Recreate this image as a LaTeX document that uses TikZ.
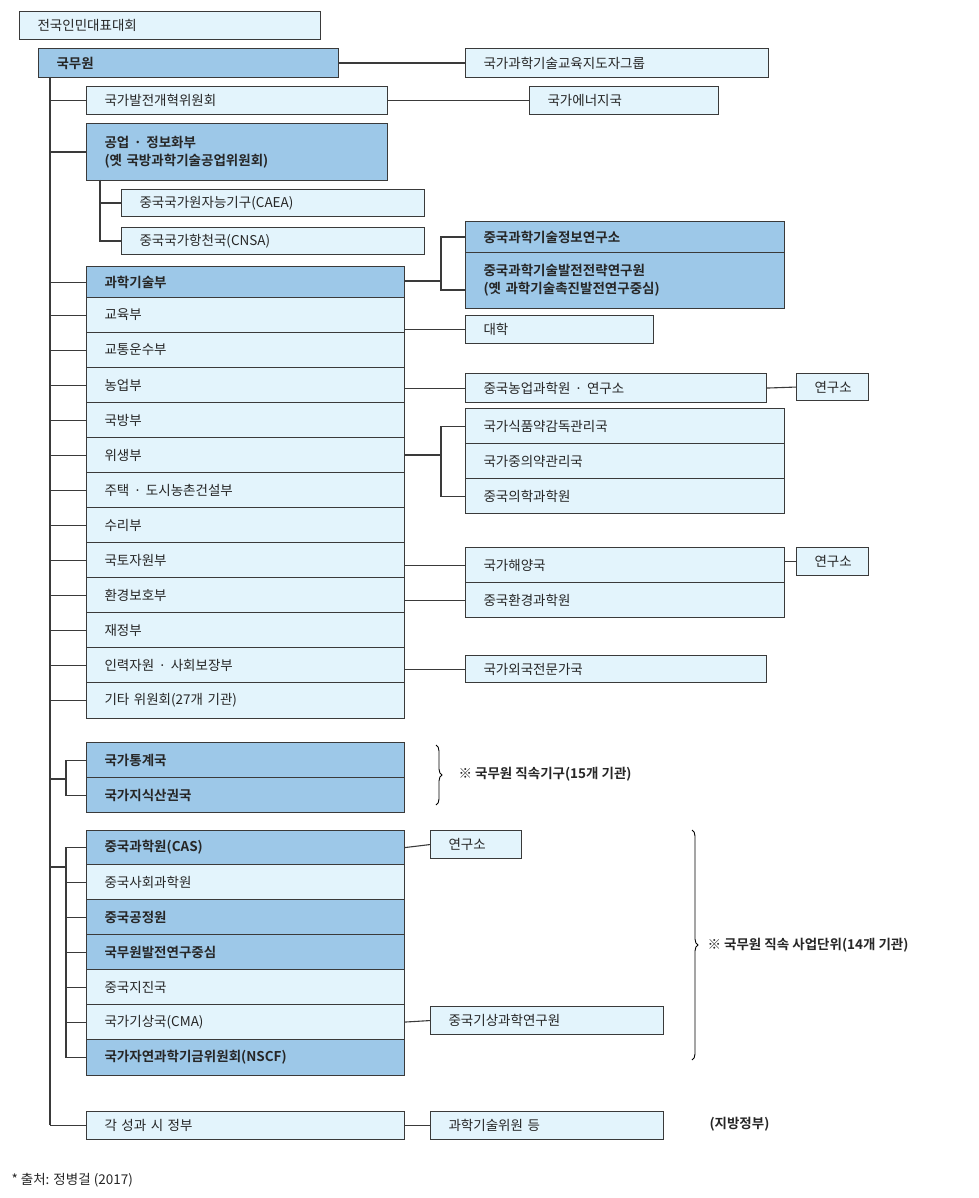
\documentclass[tikz,border=0pt]{standalone}
\usepackage{fontspec}
\setmainfont{Noto Sans CJK KR}[BoldFont={Noto Sans CJK KR Bold}]
\usetikzlibrary{decorations.pathreplacing}
\definecolor{lite}{HTML}{E3F4FC}
\definecolor{dark}{HTML}{9DC8E8}
\definecolor{edge}{HTML}{3A3A3A}
\tikzset{
 base/.style={draw=edge,line width=1.1pt,rectangle,inner xsep=0pt,inner ysep=0pt,font=\fontsize{13.5}{18}\selectfont,text=black!85},
 lb/.style={base,fill=lite},
 db/.style={base,fill=dark,font=\fontsize{13.5}{18}\selectfont\bfseries},
 ln/.style={draw=edge,line width=1.1pt},
 note/.style={font=\fontsize{13.5}{18}\selectfont\bfseries,anchor=west,text=black!85}
}
\newcommand\bx[7]{%
 \pgfmathsetmacro\bw{#4-#2}\pgfmathsetmacro\bh{#5-#3}\pgfmathsetmacro\tw{#4-#2-36}%
 \node[#6,anchor=north west,minimum width=\bw pt,minimum height=\bh pt,text width=\tw pt,align=left] (#1) at (#2,#3) {#7};}
\begin{document}
\begin{tikzpicture}[x=1pt,y=-1pt]
\useasboundingbox (0,0) rectangle (978,1198);
% boxes
\bx{npc}{19}{11}{320}{39}{lb}{전국인민대표대회}
\bx{sc}{38}{48}{338}{77}{db}{국무원}
\bx{lead}{465}{48}{768}{77}{lb}{국가과학기술교육지도자그룹}
\bx{ndrc}{86}{86}{387}{114}{lb}{국가발전개혁위원회}
\bx{nea}{529}{86}{718}{114}{lb}{국가에너지국}
\bx{miit}{86}{123}{387}{180}{db}{공업 · 정보화부\\(옛 국방과학기술공업위원회)}
\bx{caea}{121}{189}{424}{216}{lb}{중국국가원자능기구(CAEA)}
\bx{cnsa}{121}{227}{424}{254}{lb}{중국국가항천국(CNSA)}
\bx{most}{86}{266}{404}{297}{db}{과학기술부}
\bx{edu}{86}{297}{404}{332}{lb}{교육부}
\bx{trans}{86}{332}{404}{367}{lb}{교통운수부}
\bx{agri}{86}{367}{404}{402}{lb}{농업부}
\bx{def}{86}{402}{404}{437}{lb}{국방부}
\bx{health}{86}{437}{404}{472}{lb}{위생부}
\bx{house}{86}{472}{404}{507}{lb}{주택 · 도시농촌건설부}
\bx{water}{86}{507}{404}{542}{lb}{수리부}
\bx{land}{86}{542}{404}{577}{lb}{국토자원부}
\bx{env}{86}{577}{404}{612}{lb}{환경보호부}
\bx{fin}{86}{612}{404}{647}{lb}{재정부}
\bx{hr}{86}{647}{404}{682}{lb}{인력자원 · 사회보장부}
\bx{etc}{86}{682}{404}{718}{lb}{기타 위원회(27개 기관)}
\bx{istic}{465}{221}{784}{252}{db}{중국과학기술정보연구소}
\bx{casted}{465}{252}{784}{308}{db}{중국과학기술발전전략연구원\\(옛 과학기술촉진발전연구중심)}
\bx{univ}{465}{315}{653}{343}{lb}{대학}
\bx{caas}{465}{373}{766}{402}{lb}{중국농업과학원 · 연구소}
\bx{ri1}{796}{373}{868}{400}{lb}{연구소}
\bx{cfda}{465}{408}{784}{443}{lb}{국가식품약감독관리국}
\bx{tcm}{465}{443}{784}{478}{lb}{국가중의약관리국}
\bx{cams}{465}{478}{784}{513}{lb}{중국의학과학원}
\bx{soa}{465}{547}{784}{582}{lb}{국가해양국}
\bx{craes}{465}{582}{784}{617}{lb}{중국환경과학원}
\bx{ri2}{796}{547}{868}{575}{lb}{연구소}
\bx{safea}{465}{655}{766}{682}{lb}{국가외국전문가국}
\bx{nbs}{86}{742}{404}{777}{db}{국가통계국}
\bx{sipo}{86}{777}{404}{812}{db}{국가지식산권국}
\bx{cas}{86}{830}{404}{864}{db}{중국과학원(CAS)}
\bx{cass}{86}{864}{404}{899}{lb}{중국사회과학원}
\bx{cae}{86}{899}{404}{934}{db}{중국공정원}
\bx{drc}{86}{934}{404}{969}{db}{국무원발전연구중심}
\bx{cea}{86}{969}{404}{1004}{lb}{중국지진국}
\bx{cma}{86}{1004}{404}{1039}{lb}{국가기상국(CMA)}
\bx{nsfc}{86}{1039}{404}{1075}{db}{국가자연과학기금위원회(NSCF)}
\bx{ri3}{430}{830}{521}{858}{lb}{연구소}
\bx{cams2}{430}{1006}{663}{1034}{lb}{중국기상과학연구원}
\bx{prov}{86}{1111}{404}{1139}{lb}{각 성과 시 정부}
\bx{stc}{430}{1111}{663}{1139}{lb}{과학기술위원 등}
% trunk
\coordinate (t0) at (50,77);
\coordinate (t1) at (50,1125);
\draw[ln] (t0) -- (t1);
\foreach \n in {ndrc,miit,most,edu,trans,agri,def,health,house,water,land,env,fin,hr,etc}
 \draw[ln] (\n.west) -- (\n.west -| t0);
\draw[ln] (prov.west) -- (prov.west -| t0);
% MIIT sub
\coordinate (m0) at (100,180);
\draw[ln] (m0) |- (cnsa.west);
\draw[ln] (caea.west) -- (caea.west -| m0);
% right links
\draw[ln] (sc.east) -- (lead.west);
\draw[ln] (ndrc.east) -- (nea.west);
\coordinate (b1) at (441,281);
\draw[ln] (most.east |- b1) -- (b1);
\draw[ln] (istic.west) -| (b1);
\draw[ln] (b1) |- (465,290);
\draw[ln] (univ.west) -- (univ.west -| edu.east);
\draw[ln] (caas.west) -- (caas.west -| agri.east);
\draw[ln] (caas.east) -- (ri1.west);
\coordinate (b2) at (441,455);
\draw[ln] (health.east |- b2) -- (b2);
\draw[ln] (cfda.west) -| (b2) |- (cams.west);
\draw[ln] (soa.west) -- (soa.west -| land.east);
\draw[ln] (craes.west) -- (craes.west -| env.east);
\draw[ln] (ri2.west) -- (ri2.west -| soa.east);
\draw[ln] (safea.west) -- (safea.west -| hr.east);
% groups
\coordinate (g1) at (66,779);
\draw[ln] (g1 -| t0) -- (g1);
\draw[ln] (nbs.west) -| (g1) |- (sipo.west);
\coordinate (g2) at (66,867);
\draw[ln] (g2 -| t0) -- (g2);
\draw[ln] (cas.west) -| (g2) |- (nsfc.west);
\foreach \n in {cass,cae,drc,cea,cma}
 \draw[ln] (\n.west) -- (\n.west -| g2);
\draw[ln] (cas.east) -- (ri3.west);
\draw[ln] (cma.east) -- (cams2.west);
\draw[ln] (prov.east) -- (stc.west);
% braces and notes
\draw[line width=0.9pt,decorate,decoration={brace,amplitude=6pt}] (436,745) -- (436,805);
\node[note] (n1) at (455,774) {※ 국무원 직속기구(15개 기관)};
\draw[line width=0.9pt,decorate,decoration={brace,amplitude=6pt}] (692,830) -- (692,1060);
\node[note] (n2) at (704,945) {※ 국무원 직속 사업단위(14개 기관)};
\node[note] (n3) at (706,1124) {(지방정부)};
\node[anchor=west,font=\fontsize{13.5}{18}\selectfont,text=black!85] (src) at (8,1180) {* 출처: 정병걸 (2017)};
\end{tikzpicture}
\end{document}
